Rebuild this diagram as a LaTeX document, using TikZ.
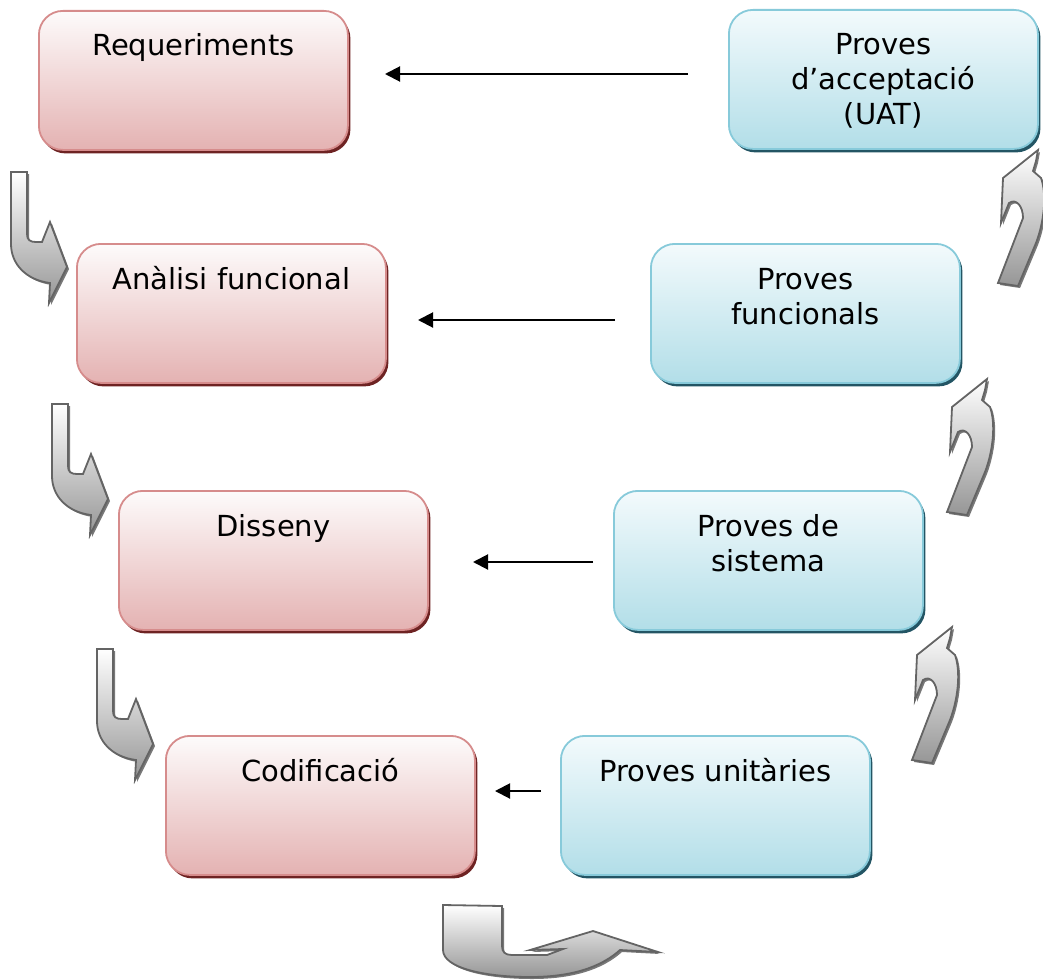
\documentclass[tikz,border=0pt]{standalone}
\usepackage{fontspec}
\setmainfont{DejaVu Sans}
\usetikzlibrary{shadows,arrows.meta}

\definecolor{pinkTop}{RGB}{253,251,251}
\definecolor{pinkBot}{RGB}{228,178,178}
\definecolor{pinkLine}{RGB}{214,140,140}
\definecolor{pinkShadow}{RGB}{110,35,35}
\definecolor{blueTop}{RGB}{243,250,252}
\definecolor{blueBot}{RGB}{178,222,232}
\definecolor{blueLine}{RGB}{135,202,218}
\definecolor{blueShadow}{RGB}{35,85,100}
\definecolor{bendBot}{RGB}{150,150,150}
\definecolor{bendLine}{RGB}{100,100,100}
\definecolor{bendShadow}{RGB}{120,120,120}

% outlines of the curved grey arrows (y grows downwards)
\def\downturnpath{(0,0) -- (16,0) -- (16,62) .. controls (16,68) and (19,70) .. (25,70)
  -- (31,70) -- (39,50) -- (56,95) -- (38,131) -- (39,111)
  .. controls (15,108) and (0,92) .. (0,72) -- cycle}
\def\upturnpath{(0,0) -- (-35,28) -- (-37,73) -- (-29,53)
  .. controls (-22,48) and (-15,56) .. (-15,68) -- (-40,133) -- (-20,136) -- (-2,93)
  .. controls (6,72) and (9,45) .. (3,28) -- (-5,21) -- (-2,11) -- cycle}
\def\uturnpath{(443,905) -- (502,906) -- (502,946) .. controls (502,952) and (505,955) .. (512,955)
  -- (547,955) -- (563,949) -- (530,950) -- (593,931) -- (658,952) -- (620,950)
  .. controls (600,968) and (570,977) .. (530,977)
  .. controls (485,977) and (443,968) .. (443,950) -- cycle}

\tikzset{
  x=1pt, y=-1pt,
  stage/.style={rounded corners=24pt, minimum width=309pt, minimum height=139pt,
    line width=1.8pt, anchor=north west, inner sep=0pt},
  devbox/.style={stage, draw=pinkLine, top color=pinkTop, bottom color=pinkBot,
    drop shadow={shadow xshift=2.5pt, shadow yshift=-3.5pt, fill=pinkShadow, opacity=1}},
  testbox/.style={stage, draw=blueLine, top color=blueTop, bottom color=blueBot,
    drop shadow={shadow xshift=2.5pt, shadow yshift=-3.5pt, fill=blueShadow, opacity=1}},
  caption/.style={anchor=base, inner sep=0pt, font=\fontsize{29}{35}\selectfont},
  link/.style={line width=2pt, -{Triangle[length=15pt,width=15pt]}},
  bentarrow/.style={draw=bendLine, line width=1.8pt, line join=miter, top color=white, bottom color=bendBot},
  bentshade/.style={fill=bendShadow},
  downturn/.pic={
    \fill[bentshade, shift={(2,2)}] \downturnpath;
    \path[bentarrow] \downturnpath;},
  upturn/.pic={
    \fill[bentshade, shift={(2,2)}] \upturnpath;
    \path[bentarrow] \upturnpath;},
}

\newcommand{\lines}[1]{\begin{tabular}[t]{@{}c@{}}#1\end{tabular}}

\begin{document}
\begin{tikzpicture}
\useasboundingbox (0,0) rectangle (1043,979);
\clip (0,0) rectangle (1043,979);

% curved arrows going down the left side
\pic at (11,172) {downturn};
\pic at (52,404) {downturn};
\pic at (97,649) {downturn};

% curved arrows going up the right side
\pic at (1038,150) {upturn};
\pic at (987,379) {upturn};
\pic at (952,627) {upturn};

% turn at the bottom of the V
\fill[bentshade, shift={(2,2)}] \uturnpath;
\path[bentarrow] \uturnpath;

% development stages
\node[devbox] (req) at (38,10) {};
\node[devbox] (ana) at (76,243) {};
\node[devbox] (dis) at (118,490) {};
\node[devbox] (cod) at (165,735) {};

% testing stages
\node[testbox] (uat) at (728,9) {};
\node[testbox] (fun) at (650,243) {};
\node[testbox] (sis) at (613,490) {};
\node[testbox] (uni) at (560,735) {};

% captions
\node[caption] (reqT) at ([yshift=-46pt]req.north) {\lines{Requeriments}};
\node[caption] (anaT) at ([yshift=-46pt]ana.north) {\lines{Anàlisi funcional}};
\node[caption] (disT) at ([yshift=-46pt]dis.north) {\lines{Disseny}};
\node[caption] (codT) at ([yshift=-46pt]cod.north) {\lines{Codificació}};
\node[caption] (uatT) at ([yshift=-46pt]uat.north) {\lines{Proves\\d’acceptació\\(UAT)}};
\node[caption] (funT) at ([yshift=-46pt]fun.north) {\lines{Proves\\funcionals}};
\node[caption] (sisT) at ([yshift=-46pt]sis.north) {\lines{Proves de\\sistema}};
\node[caption] (uniT) at ([yshift=-46pt]uni.north) {\lines{Proves unitàries}};

% each test level validates its counterpart
\coordinate (l1s) at (688,74);  \coordinate (l1e) at (385,74);
\coordinate (l2s) at (615,320); \coordinate (l2e) at (418,320);
\coordinate (l3s) at (593,562); \coordinate (l3e) at (473,562);
\coordinate (l4s) at (541,791); \coordinate (l4e) at (495,791);
\draw[link] (l1s) -- (l1e);
\draw[link] (l2s) -- (l2e);
\draw[link] (l3s) -- (l3e);
\draw[link] (l4s) -- (l4e);
\end{tikzpicture}
\end{document}
